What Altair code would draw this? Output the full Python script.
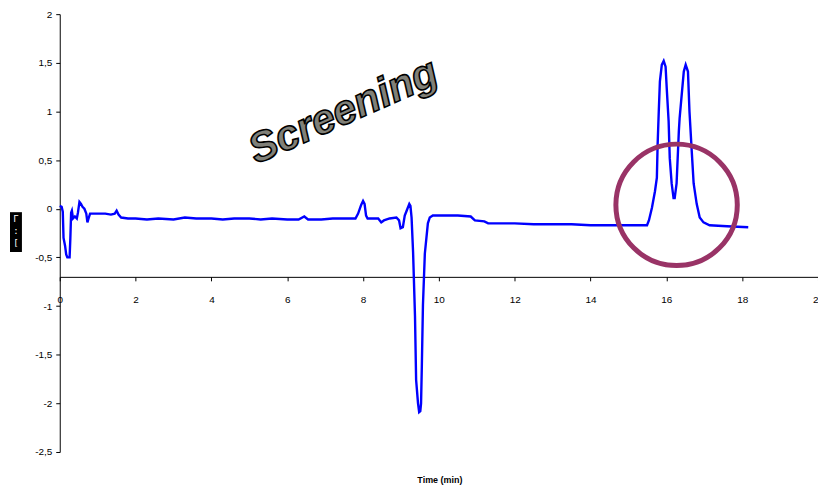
import altair as alt
import pandas as pd

# ---- data ----
time_min = [0.00, 0.05, 0.08, 0.10, 0.14, 0.17, 0.20, 0.26, 0.28, 0.30, 0.32, 0.35, 0.40, 0.45,
            0.48, 0.52, 0.56, 0.60, 0.65, 0.70, 0.73, 0.76, 0.80, 1.00, 1.20, 1.35, 1.45, 1.50,
            1.55, 1.62, 1.80, 2.00, 2.30, 2.60, 3.00, 3.30, 3.60, 4.00, 4.30, 4.60, 5.00, 5.30,
            5.60, 6.00, 6.30, 6.45, 6.55, 6.90, 7.20, 7.60, 7.80, 7.87, 7.95, 8.00, 8.04, 8.08,
            8.12, 8.40, 8.48, 8.55, 8.70, 8.88, 8.95, 8.99, 9.05, 9.10, 9.15, 9.22, 9.25, 9.28,
            9.32, 9.37, 9.40, 9.45, 9.48, 9.51, 9.53, 9.55, 9.58, 9.63, 9.71, 9.76, 9.84, 10.20,
            10.50, 10.84, 10.95, 11.20, 11.30, 12.00, 12.50, 13.00, 13.50, 14.00, 14.50, 15.00,
            15.49, 15.54, 15.62, 15.70, 15.75, 15.77, 15.80, 15.83, 15.88, 15.93, 15.98, 16.01,
            16.06, 16.09, 16.14, 16.19, 16.22, 16.27, 16.33, 16.35, 16.46, 16.51, 16.57, 16.61,
            16.67, 16.72, 16.80, 16.88, 16.98, 17.14, 17.60, 18.16]
signal = [0.03, 0.02, -0.03, -0.30, -0.38, -0.47, -0.50, -0.50, -0.30, -0.04, -0.02, -0.10, -0.08, -0.10,
          -0.04, 0.07, 0.05, 0.02, 0.00, -0.05, -0.14, -0.10, -0.05, -0.05, -0.05, -0.06, -0.05, -0.02,
          -0.06, -0.09, -0.10, -0.10, -0.11, -0.10, -0.11, -0.09, -0.10, -0.10, -0.11, -0.10, -0.10, -0.11,
          -0.10, -0.11, -0.11, -0.08, -0.11, -0.11, -0.10, -0.10, -0.10, -0.05, 0.04, 0.08, 0.05, -0.07,
          -0.10, -0.10, -0.14, -0.12, -0.10, -0.09, -0.12, -0.20, -0.19, -0.07, -0.02, 0.05, 0.03, -0.09,
          -0.45, -1.10, -1.76, -2.00, -2.09, -2.08, -2.00, -1.63, -0.99, -0.46, -0.15, -0.09, -0.07, -0.07,
          -0.07, -0.08, -0.12, -0.13, -0.15, -0.15, -0.16, -0.16, -0.16, -0.17, -0.17, -0.17,
          -0.17, -0.12, 0.01, 0.18, 0.32, 0.66, 1.00, 1.31, 1.48, 1.52, 1.46, 1.24,
          0.90, 0.52, 0.26, 0.11, 0.11, 0.26, 0.80, 0.93, 1.41, 1.48, 1.41, 1.00,
          0.59, 0.26, 0.05, -0.09, -0.14, -0.17, -0.18, -0.19]

x_ticks = [0, 2, 4, 6, 8, 10, 12, 14, 16, 18, 20]
y_ticks = [-2.5, -2, -1.5, -1, -0.5, 0, 0.5, 1, 1.5, 2]

title_text = ["Screening"]
title_pos_t = [7.48]
title_pos_v = [1.0]

circle_t = [16.27]
circle_v = [0.04]

x_title = "Time (min)"

# ---- chart ----
W, H = 762, 440
X_MIN, X_MAX = 0, 20
Y_MIN, Y_MAX = -2.5, 2
X_CROSS = -0.7
axis_offset = -H * (X_CROSS - Y_MIN) / (Y_MAX - Y_MIN)

FONT = "Liberation Sans"
COMMA_LABEL = "join(split(toString(datum.value), '.'), ',')"

df = pd.DataFrame({"t": time_min, "v": signal})
x_scale = alt.Scale(domain=[X_MIN, X_MAX], nice=False, zero=False)
y_scale = alt.Scale(domain=[Y_MIN, Y_MAX], nice=False, zero=False)

line = alt.Chart(df).mark_line(color="#0000FF", strokeWidth=2.4).encode(
    x=alt.X("t:Q", scale=x_scale,
            axis=alt.Axis(values=x_ticks, offset=axis_offset, title=None, grid=False,
                          domainColor="black", domainWidth=1, tickColor="black", tickSize=4,
                          labelPadding=14, labelFont=FONT, labelFontSize=10, labelColor="black",
                          labelFlush=False, labelOverlap=False)),
    y=alt.Y("v:Q", scale=y_scale,
            axis=alt.Axis(values=y_ticks, title=None, grid=False,
                          labelExpr=COMMA_LABEL,
                          domainColor="black", domainWidth=1, tickColor="black", tickSize=4,
                          labelPadding=4, labelFont=FONT, labelFontSize=10, labelColor="black",
                          labelFlush=False, labelOverlap=False)),
)

tdf = pd.DataFrame({"t": title_pos_t, "v": title_pos_v, "txt": title_text})
title_mark = alt.Chart(tdf).mark_text(
    font=FONT, fontSize=42, fontWeight="bold", fontStyle="italic",
    fill="#808078", stroke="black", strokeWidth=1.6, angle=336,
    align="center", baseline="middle",
).encode(x=alt.X("t:Q", scale=x_scale), y=alt.Y("v:Q", scale=y_scale), text="txt:N")

cdf = pd.DataFrame({"t": circle_t, "v": circle_v})
circle = alt.Chart(cdf).mark_point(
    shape="circle", size=122 * 122, filled=False, stroke="#993366",
    strokeWidth=5, opacity=1,
).encode(x=alt.X("t:Q", scale=x_scale), y=alt.Y("v:Q", scale=y_scale))

xt = alt.Chart(pd.DataFrame({"txt": [x_title]})).mark_text(
    font=FONT, fontSize=9, fontWeight="bold", color="black", align="center",
    baseline="middle",
).encode(x=alt.value(W / 2 + 1), y=alt.value(468), text="txt:N")

ybox = alt.Chart(pd.DataFrame({"a": [0]})).mark_rect(color="black").encode(
    x=alt.value(-50), x2=alt.value(-38), y=alt.value(199), y2=alt.value(239))
ytxt = alt.Chart(pd.DataFrame({"txt": [["\u0393", ":", "["]]})).mark_text(
    font="DejaVu Sans Mono", fontSize=9, color="white", align="center", baseline="top",
    lineHeight=12,
).encode(x=alt.value(-44), y=alt.value(202), text="txt:N")

chart = alt.layer(line, title_mark, circle, xt, ybox, ytxt).properties(
    width=W, height=H,
    autosize=alt.AutoSizeParams(type="none"),
    padding={"left": 52, "top": 5, "right": 0, "bottom": 34},
    background="white",
).configure_view(stroke=None)

chart.save("out.html", embed_options={"renderer": "svg", "actions": False})
